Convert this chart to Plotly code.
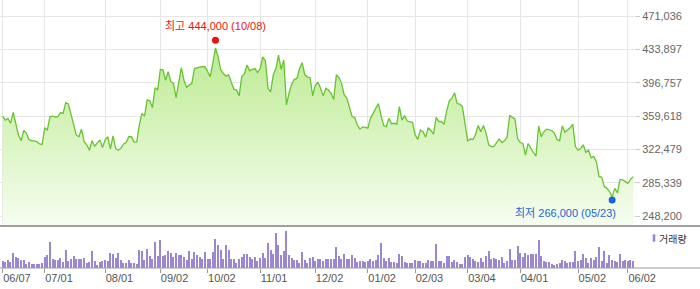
import pandas as pd
import plotly.graph_objects as go

# ---------------- data ----------------
holidays = ["2024-08-15", "2024-09-16", "2024-09-17", "2024-09-18", "2024-10-01",
            "2024-10-03", "2024-10-09", "2024-12-25", "2024-12-31", "2025-01-01",
            "2025-01-27", "2025-01-28", "2025-01-29", "2025-01-30", "2025-03-03",
            "2025-05-01", "2025-05-05", "2025-05-06", "2025-06-03"]
start_date, end_date = "2024-06-07", "2025-06-05"
dates = [d.strftime("%Y-%m-%d") for d in pd.bdate_range(start_date, end_date)
         if d.strftime("%Y-%m-%d") not in holidays]

tick_dates = ["2024-06-07", "2024-07-01", "2024-08-01", "2024-09-02", "2024-10-02",
              "2024-11-01", "2024-12-02", "2025-01-02", "2025-02-03", "2025-03-04",
              "2025-04-01", "2025-05-02", "2025-06-02"]

close = [
    359500, 355000, 357000, 351500, 363500, 351500, 338500, 332000, 343500, 340500,
    333500, 332000, 332000, 331000, 328500, 328000, 346500, 344000, 359000, 359500,
    358500, 359000, 363500, 362500, 374500, 373000, 360500, 347500, 338500, 336500,
    345000, 331000, 327500, 321500, 332000, 326000, 329000, 333000, 324500, 333000,
    336500, 323000, 337500, 323500, 321500, 323500, 328500, 330000, 336500, 336500,
    330500, 330500, 349500, 362500, 359500, 377500, 376500, 369000, 391000, 388500,
    411500, 411000, 399500, 409000, 398000, 396000, 380000, 398000, 413500, 399500,
    391500, 394000, 396000, 412500, 413500, 414000, 414500, 414500, 409000, 403500,
    418500, 435500, 425500, 411000, 407000, 404000, 405500, 398000, 389500, 388500,
    382000, 403500, 406500, 416500, 410000, 411500, 412500, 408000, 412500, 425500,
    421000, 390500, 386500, 405500, 412500, 427500, 411500, 422000, 372000, 385000,
    395000, 400500, 401500, 412500, 419000, 405500, 403000, 402500, 382000, 394000,
    397000, 390500, 382000, 390500, 388500, 385000, 378000, 405500, 402500, 396000,
    383000, 379500, 370000, 359000, 358000, 349500, 345000, 347500, 347000, 346000,
    357000, 362500, 366500, 373500, 360500, 349000, 347500, 357000, 351000, 351500,
    350500, 370000, 355000, 360000, 354000, 353500, 352500, 338500, 333500, 344000,
    342000, 336000, 346500, 343500, 339500, 358000, 353500, 353500, 350500, 365000,
    376500, 379500, 385500, 373500, 373000, 370000, 351500, 332000, 334000, 333500,
    339000, 349000, 342000, 349000, 340500, 327500, 325500, 325500, 330000, 334000,
    330000, 332000, 336000, 360500, 358000, 356500, 334500, 330000, 329000, 316000,
    329000, 323500, 319000, 315000, 348500, 336500, 342000, 345000, 344000, 343500,
    340500, 333500, 332000, 348500, 341500, 344000, 346500, 350500, 325500, 321500,
    323500, 327500, 319000, 321500, 313000, 314500, 308500, 292000, 291500, 281000,
    279000, 275500, 269500, 279000, 274000, 289000, 288500, 286500, 284500, 289000,
    292000,
]

volume = [  # thousand shares (estimated)
    220, 180, 250, 180, 450, 340, 300, 250, 250, 120,
    180, 120, 120, 120, 120, 150, 340, 400, 780, 270,
    250, 250, 300, 180, 550, 220, 280, 370, 280, 270,
    280, 300, 150, 180, 520, 200, 80, 180, 220, 250,
    220, 450, 420, 300, 450, 250, 150, 150, 250, 150,
    150, 120, 550, 520, 250, 580, 350, 280, 780, 350,
    850, 370, 380, 520, 450, 330, 450, 400, 400, 330,
    250, 500, 270, 480, 400, 330, 270, 480, 280, 280,
    480, 880, 700, 550, 280, 700, 550, 280, 270, 150,
    270, 320, 420, 430, 320, 280, 320, 200, 300, 450,
    300, 750, 550, 430, 1050, 680, 400, 500, 1100, 400,
    300, 250, 250, 150, 480, 250, 150, 300, 320, 220,
    280, 280, 200, 280, 280, 280, 280, 630, 370, 270,
    430, 270, 270, 400, 300, 180, 200, 220, 180, 220,
    280, 220, 250, 400, 750, 300, 200, 300, 180, 180,
    150, 420, 350, 180, 150, 150, 150, 250, 220, 200,
    150, 150, 250, 220, 220, 720, 200, 200, 150, 350,
    350, 180, 250, 180, 120, 120, 320, 400, 320, 270,
    220, 180, 300, 180, 350, 500, 270, 300, 280, 250,
    330, 150, 200, 580, 250, 250, 650, 450, 330, 450,
    400, 430, 430, 420, 850, 350, 200, 180, 180, 120,
    100, 120, 150, 250, 200, 150, 170, 180, 520, 220,
    250, 430, 300, 150, 300, 250, 320, 630, 200, 500,
    150, 380, 250, 220, 170, 420, 220, 250, 220, 250,
    220,
]

high_value, high_date = 444000, "2024-10-08"
low_value, low_date = 266000, "2025-05-23"
price_ticks = [248200, 285339, 322479, 359618, 396757, 433897, 471036]
legend_label = "거래량"

# ---------------- layout geometry ----------------
W, H = 700, 289
plot_w = 634
mb = 21
plot_h = H - mb               # 268
price_bottom_px = 226
split = (plot_h - price_bottom_px) / plot_h
px_per_day = 2.627
x0 = -2.7 / px_per_day
x_range = [x0, x0 + plot_w / px_per_day]

units_per_px = (price_ticks[-1] - price_ticks[0]) / 200.0
y_range = [price_ticks[0] - 10 * units_per_px, price_ticks[-1] + 16 * units_per_px]
vol_range = [0, 1260]

n = min(len(dates), len(close), len(volume))
xs = list(range(n))
tickvals = [dates.index(d) for d in tick_dates]
ticktext = [d[5:7] + "/" + d[8:10] for d in tick_dates]
i_high = dates.index(high_date)
i_low = dates.index(low_date)

font_family = "Liberation Sans, Arial, Noto Sans CJK KR, sans-serif"

fig = go.Figure()
fig.add_trace(go.Scatter(
    x=xs, y=close[:n], mode="lines",
    line=dict(color="#66c430", width=1.3),
    fill="tozeroy",
    fillgradient=dict(type="vertical",
                      colorscale=[[0, "#f6fdf0"], [1, "#bdeb93"]],
                      start=y_range[0], stop=max(close)),
    hoverinfo="skip", xaxis="x", yaxis="y"))
fig.add_trace(go.Scatter(
    x=[i_high], y=[high_value], mode="markers",
    marker=dict(color="#ee1111", size=7), xaxis="x", yaxis="y"))
fig.add_trace(go.Scatter(
    x=[i_low], y=[low_value], mode="markers",
    marker=dict(color="#1a66d2", size=7), xaxis="x", yaxis="y"))
fig.add_trace(go.Bar(
    x=xs, y=volume[:n], width=0.45,
    marker=dict(color="#9b87d0", line=dict(width=0)),
    xaxis="x2", yaxis="y2"))

fig.update_layout(
    width=W, height=H,
    margin=dict(l=0, r=W - plot_w, t=0, b=mb, pad=0),
    paper_bgcolor="white", plot_bgcolor="white",
    showlegend=False, bargap=0,
    font=dict(family=font_family, size=11, color="#666"),
    xaxis=dict(domain=[0, 1], range=x_range, anchor="y",
               tickmode="array", tickvals=tickvals, showticklabels=False,
               ticks="", showgrid=True, gridcolor="#e6e6e6", gridwidth=1,
               zeroline=False, showline=False, fixedrange=True),
    yaxis=dict(domain=[split, 1], range=y_range, side="right", anchor="x",
               tickmode="array", tickvals=price_ticks,
               ticktext=[f"{v:,}" for v in price_ticks],
               ticks="outside", ticklen=5, tickcolor="#cccccc",
               showgrid=True, gridcolor="#e6e6e6", gridwidth=1,
               zeroline=False, showline=False,
               tickfont=dict(size=11, color="#666"), fixedrange=True),
    xaxis2=dict(domain=[0, 1], range=x_range, anchor="y2", matches="x",
                tickmode="array", tickvals=tickvals, ticktext=ticktext,
                ticks="outside", ticklen=4, tickcolor="#999",
                ticklabelposition="outside right",
                tickfont=dict(size=11, color="#555"),
                showgrid=False, zeroline=False, showline=False, fixedrange=True),
    yaxis2=dict(domain=[0, split], range=vol_range, anchor="x2",
                showticklabels=False, ticks="", showgrid=False,
                zeroline=False, showline=False, fixedrange=True),
)

full_w = W / plot_w
fig.add_shape(type="line", xref="paper", yref="paper",
              x0=0, x1=full_w, y0=split, y1=split,
              line=dict(color="#808080", width=1.5))
fig.add_shape(type="line", xref="paper", yref="paper",
              x0=0, x1=full_w, y0=0, y1=0,
              line=dict(color="#9a9a9a", width=1))
# legend swatch
fig.add_shape(type="rect", xref="paper", yref="paper",
              x0=652.7 / plot_w, x1=655.3 / plot_w,
              y0=(plot_h - 241.7) / plot_h, y1=(plot_h - 234.3) / plot_h,
              fillcolor="#9b87d0", line=dict(width=0))
fig.add_annotation(xref="paper", yref="paper", x=656.5 / plot_w,
                   y=(plot_h - 238.3) / plot_h, text=legend_label,
                   showarrow=False, xanchor="left", yanchor="middle",
                   font=dict(size=10, color="#333",
                             family="Noto Sans CJK KR, sans-serif"))

fig.add_annotation(x=i_high, y=high_value, xref="x", yref="y",
                   text=f"최고 {high_value:,} ({high_date[5:7]}/{high_date[8:10]})",
                   showarrow=False, xanchor="center", yanchor="middle",
                   yshift=14.6, font=dict(size=11, color="#ee1111"))
fig.add_annotation(x=i_low, y=low_value, xref="x", yref="y",
                   text=f"최저 {low_value:,} ({low_date[5:7]}/{low_date[8:10]})",
                   showarrow=False, xanchor="right", yanchor="middle",
                   xshift=6, yshift=-12.7, font=dict(size=11, color="#1a66d2"))

fig.write_html("out.html", config={"displayModeBar": False})
